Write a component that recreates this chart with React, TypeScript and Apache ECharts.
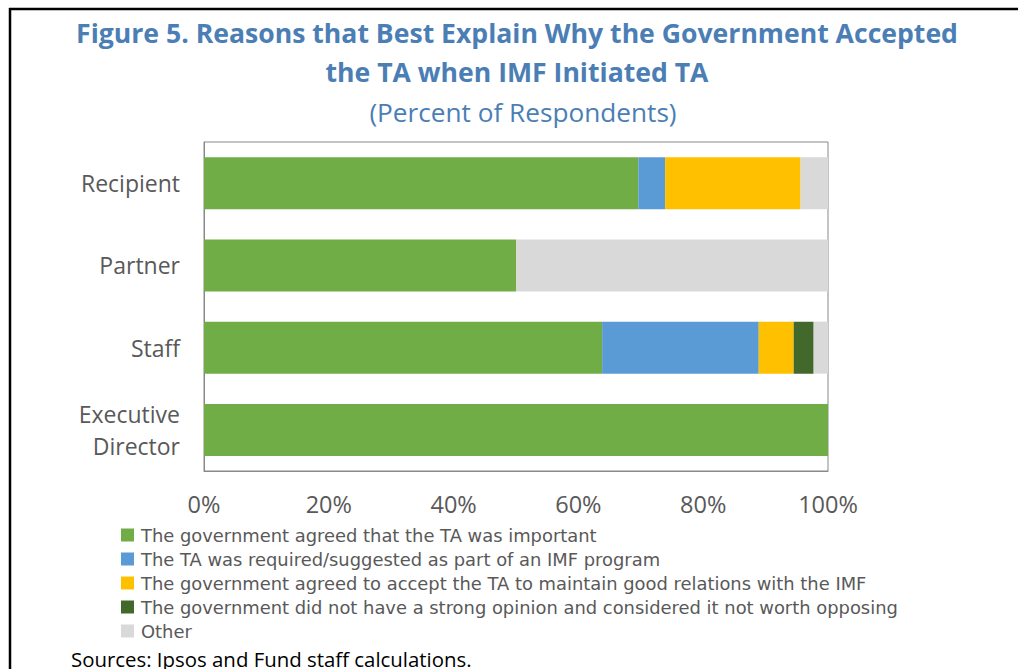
import React, { useEffect, useRef } from "react";
import * as echarts from "echarts";

const categories = ["Recipient", "Partner", "Staff", "Executive\nDirector"];
const seriesNames = [
  "The government agreed that the TA was important",
  "The TA was required/suggested as part of an IMF program",
  "The government agreed to accept the TA to maintain good relations with the IMF",
  "The government did not have a strong opinion and considered it not worth opposing",
  "Other",
];
const agreedImportant = [69.6, 50, 63.8, 100];
const requiredProgram = [4.3, 0, 25.1, 0];
const goodRelations = [21.7, 0, 5.6, 0];
const noOpinion = [0, 0, 3.2, 0];
const other = [4.4, 50, 2.3, 0];
const seriesValues = [agreedImportant, requiredProgram, goodRelations, noOpinion, other];
const colors = ["#70AD47", "#5B9BD5", "#FFC000", "#43682B", "#D9D9D9"];
const xTicks = [0, 20, 40, 60, 80, 100];

const FONT = "'Open Sans', Lato, sans-serif";
const LEGEND_FONT = "'DejaVu Sans', sans-serif";
const TITLE_COLOR = "#4A7EB5";
const LABEL_COLOR = "#595959";

export default function App() {
  const ref = useRef<HTMLDivElement>(null);
  useEffect(() => {
    if (!ref.current) return;
    const chart = echarts.init(ref.current, undefined, { renderer: "svg" });
    chart.setOption({
      animation: false,
      backgroundColor: "#ffffff",
      textStyle: { fontFamily: FONT },
      graphic: [
        { type: "line", shape: { x1: 9, y1: 9, x2: 1018, y2: 9 }, style: { stroke: "#000", lineWidth: 2.5 } },
        { type: "line", shape: { x1: 10, y1: 8, x2: 10, y2: 669 }, style: { stroke: "#000", lineWidth: 2.5 } },
        {
          type: "text", x: 517, y: 33,
          style: { text: "Figure 5. Reasons that Best Explain Why the Government Accepted", fill: TITLE_COLOR, font: `bold 26.6px ${FONT}`, textAlign: "center", textVerticalAlign: "middle" },
        },
        {
          type: "text", x: 517, y: 72,
          style: { text: "the TA when IMF Initiated TA", fill: TITLE_COLOR, font: `bold 26.6px ${FONT}`, textAlign: "center", textVerticalAlign: "middle" },
        },
        {
          type: "text", x: 523, y: 112,
          style: { text: "(Percent of Respondents)", fill: TITLE_COLOR, font: `26.2px ${FONT}`, textAlign: "center", textVerticalAlign: "middle" },
        },
        {
          type: "text", x: 71, y: 659,
          style: { text: "Sources: Ipsos and Fund staff calculations.", fill: "#000", font: `20.4px ${FONT}`, textAlign: "left", textVerticalAlign: "middle" },
        },
      ],
      grid: {
        left: 204, top: 142, width: 624, height: 329,
        show: true, borderColor: "#898989", borderWidth: 1, containLabel: false,
      },
      legend: {
        orient: "vertical",
        left: 121, top: 525, padding: 0,
        itemWidth: 13, itemHeight: 13, itemGap: 4,
        icon: "rect",
        selectedMode: false,
        data: seriesNames,
        textStyle: { fontSize: 17.9, lineHeight: 20, color: LABEL_COLOR, fontFamily: LEGEND_FONT, padding: [0, 0, 0, 2] },
      },
      xAxis: {
        type: "value", min: xTicks[0], max: xTicks[xTicks.length - 1], interval: 20,
        axisLine: { show: true, lineStyle: { color: "#898989" } },
        axisTick: { show: false },
        splitLine: { show: false },
        axisLabel: { formatter: "{value}%", fontSize: 23.5, color: LABEL_COLOR, margin: 21, fontFamily: FONT },
      },
      yAxis: {
        type: "category", inverse: true, data: categories,
        axisLine: { show: true, lineStyle: { color: "#898989" } },
        axisTick: { show: false },
        axisLabel: { fontSize: 23, color: LABEL_COLOR, margin: 24, lineHeight: 32, fontFamily: FONT, align: "right" },
      },
      series: seriesValues.map((vals, i) => ({
        name: seriesNames[i],
        type: "bar",
        stack: "total",
        barWidth: 52,
        itemStyle: { color: colors[i] },
        data: vals,
      })),
    });
    return () => chart.dispose();
  }, []);
  return <div ref={ref} style={{ position: "fixed", left: 0, top: 0, width: 1018, height: 669 }} />;
}
